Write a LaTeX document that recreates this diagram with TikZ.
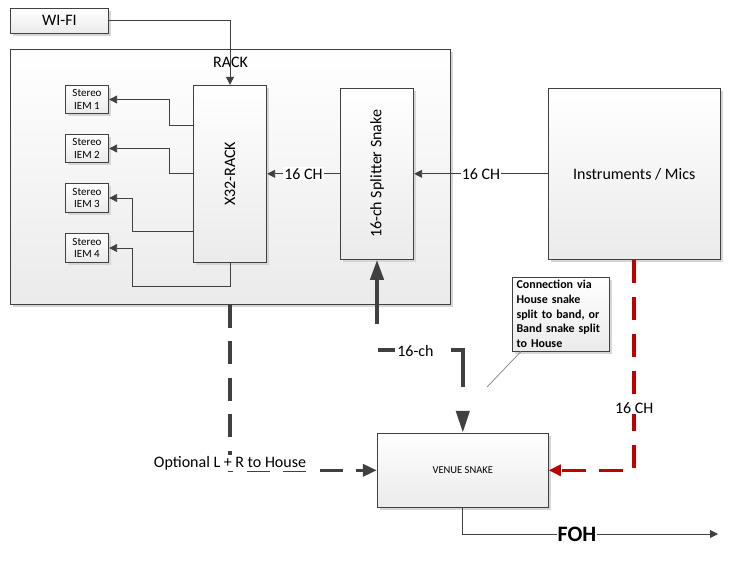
\documentclass[tikz,border=0pt]{standalone}
\usepackage{fontspec}
\setmainfont{Carlito}
\usetikzlibrary{arrows.meta,shadows}
\definecolor{linea}{HTML}{404040}
\definecolor{rojo}{HTML}{C00000}
\definecolor{sombra}{HTML}{D6D6D6}

\begin{document}
\begin{tikzpicture}[x=1pt, y=-1pt,
  caja/.style={draw=linea, line width=0.9pt, top color=white, bottom color=black!8,
               drop shadow={shadow xshift=2.5pt, shadow yshift=-2.5pt, fill=sombra, opacity=1},
               align=center, inner sep=0pt, font=\fontsize{16}{19}\selectfont},
  iem/.style={caja, minimum width=43.4pt, minimum height=28.4pt, font=\fontsize{11}{12.7}\selectfont},
  nota/.style={caja, minimum width=97pt, minimum height=74pt, text width=88pt, inner xsep=4.5pt,
               align=left, font=\fontsize{12}{14.6}\selectfont\bfseries},
  fino/.style={draw=linea, line width=0.9pt, -{Triangle[length=8pt,width=8pt]}},
  grueso/.style={draw=linea, line width=4pt,
                 {Triangle[length=22pt,width=13pt]}-{Triangle[length=20pt,width=13pt]}},
  opcional/.style={draw=linea, line width=3.5pt, dash pattern=on 23pt off 13.5pt,
                   -{Triangle[length=14pt,width=12pt]}},
  roja/.style={draw=rojo, line width=3.5pt, dash pattern=on 23.5pt off 13.5pt,
               -{Triangle[length=12pt,width=11pt]}},
  etq/.style={fill=white, inner sep=1pt, font=\fontsize{16}{19}\selectfont}]
\useasboundingbox (0,0) rectangle (750,560);
% cajas
\node[caja, minimum width=440pt, minimum height=255pt,
      label={[anchor=north, yshift=-5pt, font=\fontsize{16}{19}\selectfont]north:RACK}] (rack) at (230.5,176.8) {};
\node[caja, minimum width=97.7pt, minimum height=25pt] (wifi) at (59.5,20.8) {WI-FI};
\node[caja, minimum width=73.4pt, minimum height=177pt] (x32) at (230,173.8) {\rotatebox{90}{X32-RACK}};
\node[caja, minimum width=73.4pt, minimum height=171pt] (split) at (377,173.8) {\rotatebox{90}{16-ch Splitter Snake}};
\node[caja, minimum width=171.7pt, minimum height=171pt] (instr) at (634.2,173.8) {Instruments / Mics};
\node[iem] (iem1) at (87,99.5) {Stereo\\IEM 1};
\node[iem] (iem2) at (87,148.5) {Stereo\\IEM 2};
\node[iem] (iem3) at (87,198) {Stereo\\IEM 3};
\node[iem] (iem4) at (87,248) {Stereo\\IEM 4};
\node[caja, minimum width=171pt, minimum height=74pt, font=\fontsize{10.5}{12}\selectfont] (venue) at (462.8,470.3) {VENUE SNAKE};
\node[nota] (nota) at (560.5,314) {Connection via\\House snake\\split to band, or\\Band snake split\\to House};
\coordinate (notapunta) at (487,387);
\coordinate (fohfin) at (718,534);
% conexiones
\draw[fino] (wifi.east) -| (x32.north);
\draw[fino] (x32.west |- 0,125.7) -- (169,125.7) |- (iem1.east);
\draw[fino] (x32.west) -- (169,173.8) |- (iem2.east);
\draw[fino] (x32.west |- 0,231) -- (132,231) |- (iem3.east);
\draw[fino] (x32.south) |- (132,286) |- (iem4.east);
\draw[fino] (split) -- node[etq] (ch1) {16 CH} (x32);
\draw[fino] (instr) -- node[etq] (ch2) {16 CH} (split);
\draw[grueso, dash pattern=on 0pt off 25pt on 49pt off 56pt on 17pt off 27pt on 100pt]
  (venue.north) |- (split.south |- 0,350) -- (split.south);
\node[font=\fontsize{16}{19}\selectfont, inner sep=1pt] (ch3) at (415.5,351) {16-ch};
\draw[opcional] (rack.south -| x32.south) |- (venue.west);
\node[etq] (opc) at (230,463) {Optional L + R to House};
\draw[roja] (instr.south) |- (venue.east);
\node[etq] (ch4) at (634.2,408) {16 CH};
\draw[draw=gray, line width=0.7pt] ([xshift=9.5pt]nota.south west) -- (notapunta);
\draw[fino] (venue.south) |- (fohfin);
\node[fill=white, inner sep=1pt, font=\fontsize{22}{26}\selectfont\bfseries] (foh) at (577,534) {FOH};
\end{tikzpicture}
\end{document}
